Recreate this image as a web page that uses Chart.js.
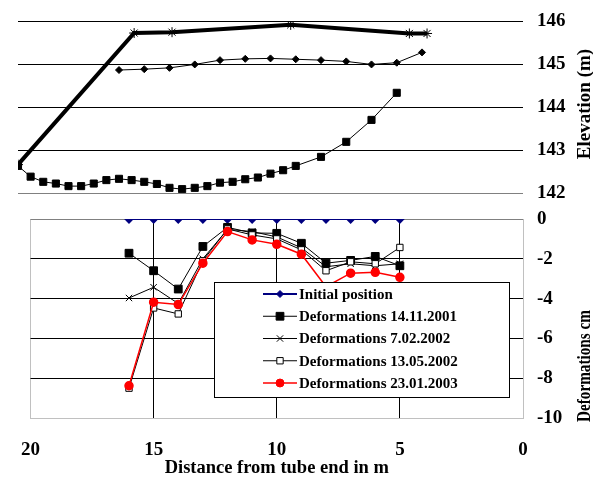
<!DOCTYPE html>
<html>
<head>
<meta charset="utf-8">
<script src="https://cdn.jsdelivr.net/npm/chart.js@4/dist/chart.umd.min.js"></script>
<style>
  body { margin: 0; background: #fff; }
  #wrap { position: relative; width: 593px; height: 479px; }
  #elevChart { position: absolute; left: 0; top: 0; }
  #defChart { position: absolute; left: 0; top: 200px; }
</style>
</head>
<body>
<div id="wrap">
  <canvas id="elevChart" width="593" height="200"></canvas>
  <canvas id="defChart" width="593" height="279"></canvas>
</div>
<script>
// upper panel: elevations (m)
const pipeDist = [20, 19.5, 19, 18.5, 18, 17.5, 17, 16.5, 16, 15.5, 15, 14.5, 14, 13.5, 13, 12.5, 12, 11.5, 11, 10.5, 10, 9.5, 9, 8, 7, 6, 5];
const pipeElev = [142.63, 142.38, 142.26, 142.22, 142.16, 142.16, 142.22, 142.30, 142.33, 142.30, 142.26, 142.21, 142.12, 142.09, 142.12, 142.16, 142.24, 142.26, 142.32, 142.36, 142.45, 142.53, 142.63, 142.84, 143.19, 143.70, 144.33];
const groundDist = [16, 15, 14, 13, 12, 11, 10, 9, 8, 7, 6, 5, 4];
const groundElev = [144.86, 144.88, 144.91, 144.99, 145.09, 145.12, 145.13, 145.11, 145.09, 145.06, 144.99, 145.03, 145.27];
const surfaceDist = [20, 15.4, 13.9, 9.2, 4.5, 3.8];
const surfaceElev = [142.66, 145.72, 145.74, 145.91, 145.71, 145.71];

// lower panel: deformations (cm)
const defDist = [16, 15, 14, 13, 12, 11, 10, 9, 8, 7, 6, 5];
const defInitial = [0, 0, 0, 0, 0, 0, 0, 0, 0, 0, 0, 0];
const def141101 = [-1.72, -2.6, -3.52, -1.38, -0.42, -0.7, -0.72, -1.22, -2.22, -2.08, -1.88, -2.35];
const def070202 = [-3.97, -3.43, -4.25, -2.0, -0.52, -0.63, -0.9, -1.45, -2.4, -2.25, -2.35, -2.25];
const def130502 = [-8.5, -4.47, -4.77, -2.1, -0.5, -0.8, -1.0, -1.55, -2.6, -2.15, -2.25, -1.43];
const def230103 = [-8.38, -4.18, -4.3, -2.22, -0.63, -1.05, -1.27, -1.77, -3.4, -2.72, -2.68, -2.93];
const defLabels = ['Initial position', 'Deformations 14.11.2001', 'Deformations 7.02.2002', 'Deformations 13.05.2002', 'Deformations 23.01.2003'];

const serif = 'Liberation Serif';
const pts = (xs, ys) => xs.map((x, i) => ({ x: x, y: ys[i] }));

// fixed width for the right axis, no extra label overhang
function fixAxis(s) {
    s.width = 70;
    s.paddingTop = 0;
    s.paddingBottom = 0;
}

// right-hand axis title, read bottom to top
function sideTitle(text, x, y, maxLen) {
    return {
        id: 'sideTitle',
        afterDraw(chart) {
            const ctx = chart.ctx;
            ctx.save();
            ctx.translate(x, y);
            ctx.rotate(-Math.PI / 2);
            ctx.font = 'bold 19px "' + serif + '"';
            ctx.fillStyle = '#000';
            ctx.textAlign = 'center';
            ctx.textBaseline = 'middle';
            ctx.fillText(text, 0, 0, maxLen);
            ctx.restore();
        }
    };
}

new Chart(document.getElementById('elevChart'), {
    type: 'line',
    data: {
        datasets: [
            {
                data: pts(pipeDist, pipeElev),
                borderColor: '#000', borderWidth: 1,
                pointStyle: 'rect', pointRadius: 5, pointBorderWidth: 1,
                pointBackgroundColor: '#000', pointBorderColor: '#000',
                order: 0
            },
            {
                data: pts(groundDist, groundElev),
                borderColor: '#000', borderWidth: 1,
                pointStyle: 'rectRot', pointRadius: 3.5, pointBorderWidth: 1,
                pointBackgroundColor: '#000', pointBorderColor: '#000',
                order: 1
            },
            {
                data: pts(surfaceDist, surfaceElev),
                borderColor: '#000', borderWidth: 4,
                pointStyle: 'star', pointRadius: 5, pointBorderWidth: 1,
                pointBackgroundColor: '#000', pointBorderColor: '#000',
                order: 2
            }
        ]
    },
    options: {
        responsive: false,
        animation: false,
        layout: { padding: { left: 18, top: 21, bottom: 7, right: 0 } },
        plugins: { legend: { display: false }, tooltip: { enabled: false } },
        scales: {
            x: { type: 'linear', min: 0, max: 20, reverse: true, display: false },
            y: {
                position: 'right', min: 142, max: 146,
                ticks: { stepSize: 1, padding: 14, color: '#000', font: { family: serif, size: 19, weight: 'bold' } },
                grid: { color: c => c.tick.value === 142 ? '#808080' : '#000', drawTicks: false },
                border: { display: false },
                afterFit: fixAxis
            }
        }
    },
    plugins: [sideTitle('Elevation (m)', 585, 104, 112)]
});

const defLegend = {
    id: 'defLegend',
    afterDraw(chart) {
        const ctx = chart.ctx;
        ctx.save();
        ctx.fillStyle = '#fff';
        ctx.fillRect(214, 82, 295, 115);
        ctx.strokeStyle = '#000';
        ctx.lineWidth = 1;
        ctx.strokeRect(214.5, 82.5, 295, 115);
        chart.data.datasets.forEach((ds, i) => {
            const y = 94 + i * 22.25;
            ctx.strokeStyle = ds.borderColor;
            ctx.lineWidth = ds.borderWidth;
            ctx.beginPath();
            ctx.moveTo(263, y);
            ctx.lineTo(297, y);
            ctx.stroke();
            ctx.fillStyle = ds.pointBackgroundColor;
            ctx.strokeStyle = ds.pointBorderColor;
            ctx.lineWidth = 1;
            Chart.helpers.drawPoint(ctx, { pointStyle: ds.pointStyle, radius: ds.pointRadius, rotation: 0, borderWidth: 1 }, 280, y);
            ctx.fillStyle = '#000';
            ctx.font = 'bold 15px "' + serif + '"';
            ctx.textAlign = 'left';
            ctx.textBaseline = 'middle';
            ctx.fillText(defLabels[i], 299, y + 1);
        });
        ctx.restore();
    }
};

new Chart(document.getElementById('defChart'), {
    type: 'line',
    data: {
        datasets: [
            {
                data: pts(defDist, defInitial),
                borderColor: '#000080', borderWidth: 2,
                pointStyle: 'rectRot', pointRadius: 3.5,
                pointBackgroundColor: '#000080', pointBorderColor: '#000080',
                order: 4
            },
            {
                data: pts(defDist, def141101),
                borderColor: '#000', borderWidth: 1,
                pointStyle: 'rect', pointRadius: 5.5,
                pointBackgroundColor: '#000', pointBorderColor: '#000',
                order: 3
            },
            {
                data: pts(defDist, def070202),
                borderColor: '#000', borderWidth: 1,
                pointStyle: 'crossRot', pointRadius: 4.5,
                pointBackgroundColor: '#000', pointBorderColor: '#000',
                order: 2
            },
            {
                data: pts(defDist, def130502),
                borderColor: '#000', borderWidth: 1,
                pointStyle: 'rect', pointRadius: 4.5,
                pointBackgroundColor: '#fff', pointBorderColor: '#000',
                order: 1
            },
            {
                data: pts(defDist, def230103),
                borderColor: '#ff0000', borderWidth: 1.5,
                pointStyle: 'circle', pointRadius: 4,
                pointBackgroundColor: '#ff0000', pointBorderColor: '#ff0000',
                order: 0
            }
        ]
    },
    options: {
        responsive: false,
        animation: false,
        layout: { padding: { left: 18, top: 19, bottom: 0, right: 0 } },
        plugins: { legend: { display: false }, tooltip: { enabled: false } },
        scales: {
            x: {
                type: 'linear', position: 'bottom', min: 0, max: 20, reverse: true,
                ticks: { stepSize: 5, padding: 21, color: '#000', font: { family: serif, size: 19, weight: 'bold' } },
                grid: { color: c => (c.tick.value === 20 || c.tick.value === 0) ? '#c0c0c0' : '#000', drawTicks: false },
                border: { color: '#c0c0c0' },
                title: { display: true, text: 'Distance from tube end in m', color: '#000', padding: 0, font: { family: serif, size: 18.5, weight: 'bold' } },
                afterFit: s => { s.height = 61; }
            },
            y: {
                position: 'right', min: -10, max: 0,
                ticks: { stepSize: 2, padding: 14, color: '#000', font: { family: serif, size: 19, weight: 'bold' } },
                grid: { color: c => c.tick.value === 0 ? '#808080' : (c.tick.value === -10 ? '#c0c0c0' : '#000'), drawTicks: false },
                border: { color: '#c0c0c0' },
                afterFit: fixAxis
            }
        }
    },
    plugins: [defLegend, sideTitle('Deformations cm', 585, 166, 112)]
});
</script>
</body>
</html>
